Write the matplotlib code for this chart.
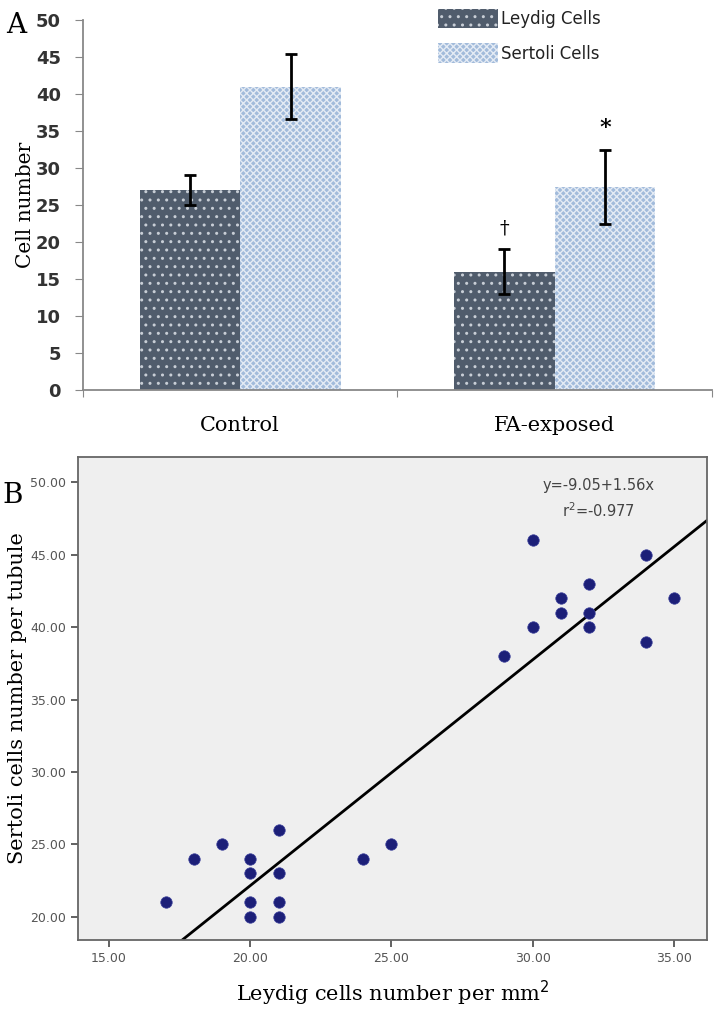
import matplotlib
matplotlib.use("Agg")
import matplotlib.pyplot as plt
import numpy as np

# ---- Panel A data ----
groups = ["Control", "FA-exposed"]
leydig_mean = [27.0, 16.0]
leydig_err = [2.0, 3.0]
sertoli_mean = [41.0, 27.5]
sertoli_err = [4.4, 5.0]
series_names = ["Leydig Cells", "Sertoli Cells"]
a_yticks = [0, 5, 10, 15, 20, 25, 30, 35, 40, 45, 50]

# ---- Panel B data ----
leydig_x = [17, 18, 19, 20, 20, 20, 20, 21, 21, 21, 21, 24, 25,
            29, 30, 30, 31, 31, 32, 32, 32, 34, 34, 35]
sertoli_y = [21, 24, 25, 24, 23, 21, 20, 26, 23, 21, 20, 24, 25,
             38, 46, 40, 42, 41, 43, 41, 40, 45, 39, 42]
fit_intercept = -9.05
fit_slope = 1.56
r2_text = "-0.977"
b_xticks = [15, 20, 25, 30, 35]
b_yticks = [20, 25, 30, 35, 40, 45, 50]

serif = ["DejaVu Serif"]
plt.rcParams["hatch.linewidth"] = 1.0

fig = plt.figure(figsize=(7.16, 10.23), dpi=100)

# ================= Panel A =================
axA = fig.add_axes([0.1159, 0.6188, 0.8785, 0.3616])
x = np.arange(len(groups))
w = 0.32
ley_color = "#505c6c"
ser_color = "#a2bbdb"
axA.bar(x - w, leydig_mean, width=w, align="edge", color=ley_color,
        edgecolor="#c8ced6", linewidth=0, hatch="..", label=series_names[0])
axA.bar(x, sertoli_mean, width=w, align="edge", color=ser_color,
        edgecolor="#e4ebf4", linewidth=0, hatch="xxxxx", label=series_names[1])
axA.errorbar(x - w / 2, leydig_mean, yerr=leydig_err, fmt="none", ecolor="black",
             elinewidth=2, capsize=4, capthick=2)
axA.errorbar(x + w / 2, sertoli_mean, yerr=sertoli_err, fmt="none", ecolor="black",
             elinewidth=2, capsize=4, capthick=2)
axA.text(x[1] - w / 2, leydig_mean[1] + leydig_err[1] + 1.6, "†", ha="center",
         va="bottom", fontsize=14, family=serif)
axA.text(x[1] + w / 2, sertoli_mean[1] + sertoli_err[1] + 1.4, "*", ha="center",
         va="bottom", fontsize=16, fontweight="bold", family=serif)

axA.set_xlim(-0.5, 1.5)
axA.set_ylim(0, 50)
axA.set_yticks(a_yticks)
axA.set_xticks([-0.5, 0.5, 1.5])
axA.set_xticklabels([])
axA.tick_params(axis="x", length=5, color="#888888", direction="out")
axA.tick_params(axis="y", length=6, color="#888888", labelsize=13,
                labelcolor="#333333", pad=10)
for lab in axA.get_yticklabels():
    lab.set_fontweight("bold")
for gx, g in zip(x, groups):
    axA.text(gx, -3.5, g, ha="center", va="top", fontsize=15, family=serif)
for s in ["top", "right"]:
    axA.spines[s].set_visible(False)
for s in ["left", "bottom"]:
    axA.spines[s].set_color("#888888")
    axA.spines[s].set_linewidth(1.3)
axA.set_ylabel("Cell number", fontsize=14.5, family=serif)
axA.yaxis.set_label_coords(-0.076, 0.5)
leg = axA.legend(loc="upper left", bbox_to_anchor=(0.54, 1.07), frameon=False,
                 fontsize=12, handlelength=3.6, handleheight=1.4,
                 labelspacing=0.9, handletextpad=0.2)
for t in leg.get_texts():
    t.set_color("#222222")
fig.text(0.008, 0.975, "A", fontsize=20, family=serif, va="center")

# ================= Panel B =================
axB = fig.add_axes([0.1089, 0.0811, 0.8785, 0.4722])
axB.set_facecolor("#efefef")
axB.scatter(leydig_x, sertoli_y, s=68, color="#1c1f78", edgecolors="#3a3f9a",
            linewidths=0.5, zorder=3)
xl = (13.9, 36.17)
xx = np.array(xl)
axB.plot(xx, fit_intercept + fit_slope * xx, color="black", lw=2, zorder=2)
axB.set_xlim(*xl)
axB.set_ylim(18.39, 51.76)
axB.set_xticks(b_xticks)
axB.set_yticks(b_yticks)
axB.set_xticklabels([f"{v:.2f}" for v in b_xticks])
axB.set_yticklabels([f"{v:.2f}" for v in b_yticks])
axB.tick_params(labelsize=9, labelcolor="#555555", color="#555555", length=5,
                width=1.3)
for s in axB.spines.values():
    s.set_color("#666666")
    s.set_linewidth(1.3)
axB.text(0.827, 0.94, f"y={fit_intercept:.2f}+{fit_slope:.2f}x",
         transform=axB.transAxes, ha="center", va="center", fontsize=10.5,
         color="#444444")
axB.text(0.827, 0.888, "r$^2$=" + r2_text, transform=axB.transAxes, ha="center",
         va="center", fontsize=10.5, color="#444444")
axB.set_xlabel("Leydig cells number per mm$^2$", fontsize=15, family=serif,
               labelpad=10)
axB.set_ylabel("Sertoli cells number per tubule", fontsize=15, family=serif)
axB.yaxis.set_label_coords(-0.081, 0.5)
fig.text(0.004, 0.516, "B", fontsize=20, family=serif, va="center")

fig.savefig("out.png", dpi=100)
